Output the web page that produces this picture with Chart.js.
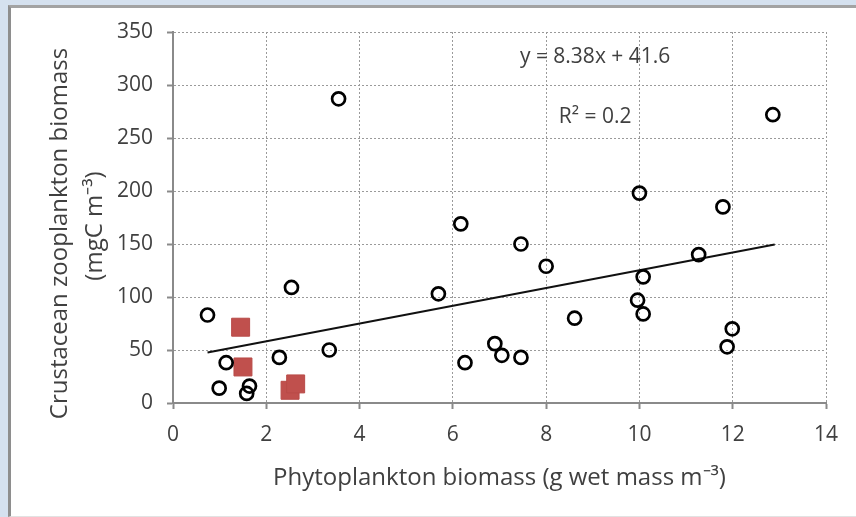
<!DOCTYPE html>
<html>
<head>
<meta charset="utf-8">
<script src="https://cdn.jsdelivr.net/npm/chart.js@4"></script>
<style>
  html, body { margin: 0; padding: 0; background: #d5e1ef; width: 856px; height: 517px; overflow: hidden; }
  #panel { position: absolute; left: 8px; top: 5px; width: 900px; height: 508px; background: #fff;
           border-left: 3px solid #8e8e8e; border-top: 3px solid #a3a3a3; border-bottom: 1px solid #e2e2e2; }
  #wrap { position: absolute; left: 0; top: 0; width: 856px; height: 517px; }
</style>
</head>
<body>
<div id="panel"></div>
<div id="wrap"><canvas id="c" width="856" height="517"></canvas></div>
<script>
// Phytoplankton biomass (x) and crustacean zooplankton biomass (y) — open circles
const phytoX = [0.74, 0.99, 1.14, 1.64, 1.58, 2.28, 2.54, 3.35, 3.55, 5.69, 6.17, 6.26, 6.9, 7.05, 7.46, 7.46, 8.0, 8.61, 9.96, 10.0, 10.08, 10.08, 11.27, 11.79, 11.88, 11.99, 12.86];
const zooY   = [83, 14, 38, 16, 9, 43, 109, 50, 287, 103, 169, 38, 56, 45, 43, 150, 129, 80, 97, 198, 119, 84, 140, 185, 53, 70, 272];
// Red squares
const redX = [1.45, 1.50, 2.51, 2.63];
const redY = [71.5, 34, 12, 18];
// Linear trendline endpoints (y = 8.38x + 41.6)
const trendX = [0.74, 12.9];
const trendY = [47.6, 149.6];
// Axis ticks
const xTicks = [0, 2, 4, 6, 8, 10, 12, 14];
const yTicks = [0, 50, 100, 150, 200, 250, 300, 350];
const eqText = 'y = 8.38x + 41.6';
const r2Text = 'R\u00B2 = 0.2';
const xTitle = 'Phytoplankton biomass (g wet mass m\u207B\u00B3)';
const yTitle = ['Crustacean zooplankton biomass', '(mgC m\u207B\u00B3)'];

const FONT = 'Open Sans';
const TXT = '#404040';

const pts = (xs, ys) => xs.map((x, i) => ({x, y: ys[i]}));

const annot = {
  id: 'annot',
  afterDraw(chart) {
    const {ctx, scales: {x, y}} = chart;
    ctx.save();
    ctx.fillStyle = TXT;
    ctx.font = '21px "' + FONT + '"';
    ctx.textAlign = 'center';
    ctx.textBaseline = 'middle';
    ctx.fillText(eqText, x.getPixelForValue(9.05), y.getPixelForValue(326));
    ctx.fillText(r2Text, x.getPixelForValue(9.05), y.getPixelForValue(270));
    // y-axis title (two rotated lines)
    ctx.font = '24px "' + FONT + '"';
    ctx.save();
    ctx.translate(60, 233.5);
    ctx.rotate(-Math.PI / 2);
    ctx.fillText(yTitle[0], 0, 0);
    ctx.restore();
    ctx.save();
    ctx.translate(95.5, 226);
    ctx.rotate(-Math.PI / 2);
    ctx.fillText(yTitle[1], 0, 0);
    ctx.restore();
    ctx.restore();
  }
};

new Chart(document.getElementById('c'), {
  type: 'scatter',
  data: {
    datasets: [
      { data: pts(trendX, trendY), type: 'line', showLine: true, borderColor: '#111', borderWidth: 2,
        pointRadius: 0, fill: false, order: 3 },
      { data: pts(redX, redY), pointStyle: 'rect', pointRadius: 12.7, backgroundColor: '#c0504d',
        borderColor: '#b84a47', borderWidth: 1, order: 2 },
      { data: pts(phytoX, zooY), pointStyle: 'circle', pointRadius: 6.5, backgroundColor: 'rgba(255,255,255,0)',
        borderColor: '#000', borderWidth: 2.7, order: 1 }
    ]
  },
  options: {
    responsive: false,
    animation: false,
    devicePixelRatio: 1,
    layout: { padding: { left: 0, right: 30, top: 32, bottom: 0 } },
    plugins: { legend: { display: false }, tooltip: { enabled: false } },
    scales: {
      x: {
        type: 'linear', min: 0, max: 14,
        afterBuildTicks: s => { s.ticks = xTicks.map(v => ({value: v})); },
        afterFit: s => { s.height = 517 - 403; },
        ticks: { color: TXT, font: { family: FONT, size: 21 }, padding: 13 },
        grid: { color: '#9a9a9a', lineWidth: 1, drawTicks: true, tickLength: 6, tickColor: '#8a8a8a', tickWidth: 2 },
        border: { display: true, color: '#8a8a8a', width: 2, dash: [2, 2] },
        title: { display: true, text: xTitle, color: TXT,
                 font: { family: FONT, size: 24 }, padding: { top: 0, bottom: 24 } }
      },
      y: {
        type: 'linear', min: 0, max: 350,
        afterBuildTicks: s => { s.ticks = yTicks.map(v => ({value: v})); },
        afterFit: s => { s.width = 173; },
        ticks: { color: TXT, font: { family: FONT, size: 21 }, padding: 14 },
        grid: { color: '#9a9a9a', lineWidth: 1, drawTicks: true, tickLength: 6, tickColor: '#8a8a8a', tickWidth: 2 },
        border: { display: true, color: '#8a8a8a', width: 2, dash: [2, 2] },
        title: { display: false }
      }
    }
  },
  plugins: [annot]
});
</script>
</body>
</html>
